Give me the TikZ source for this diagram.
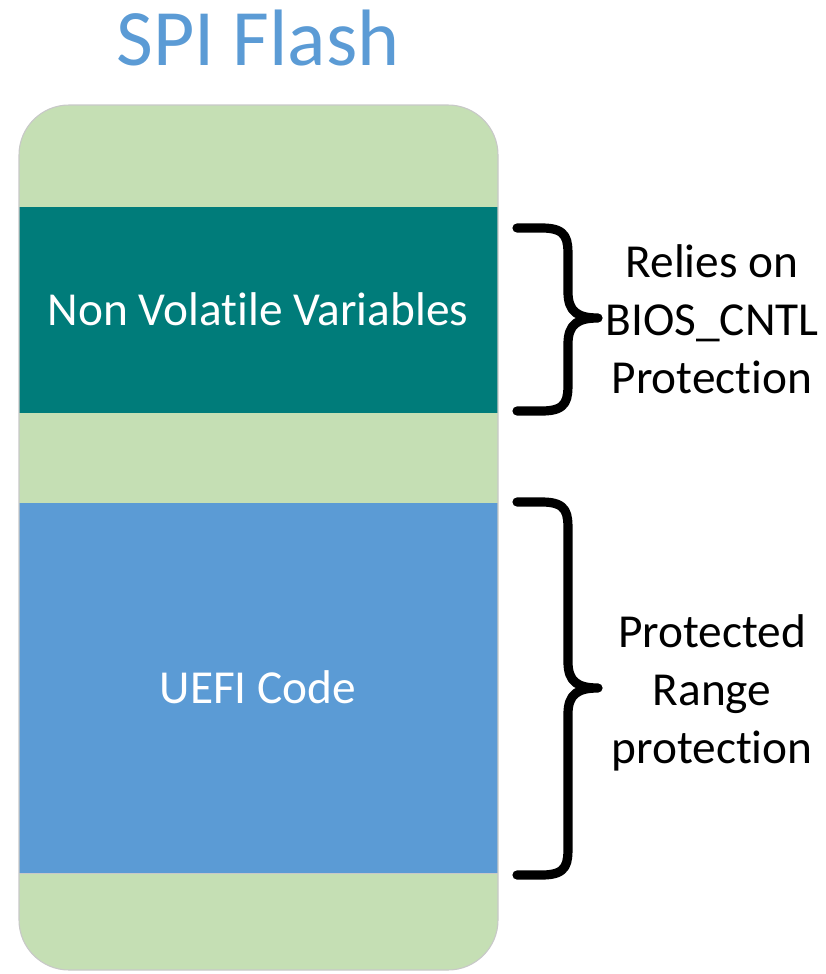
\documentclass[tikz,border=0pt]{standalone}
\usepackage{fontspec}
\setmainfont[Ligatures={NoCommon}]{Carlito}
\definecolor{flashgreen}{HTML}{C5DFB4}
\definecolor{nvteal}{HTML}{007C7A}
\definecolor{uefiblue}{HTML}{5B9BD5}
\definecolor{titleblue}{HTML}{5B9BD5}
\definecolor{edgegray}{HTML}{C8C8C8}
\begin{document}
\begin{tikzpicture}[x=0.75pt,y=-0.75pt,
  bandtext/.style={text=white,font=\fontsize{35.5}{43.5}\selectfont,inner sep=0pt},
  sidetext/.style={text=black,font=\fontsize{35.5}{43.5}\selectfont,align=center,inner sep=0pt},
  bracepath/.style={line width=6.9pt,line cap=round,line join=round,black}]
\useasboundingbox (0,0) rectangle (825,974);
% outer flash body
\fill[flashgreen] (19,105) [rounded corners=37.5pt] rectangle (498,970);
% bands
\fill[nvteal] (19,207) rectangle (498,413);
\fill[uefiblue] (19,503) rectangle (498,873);
\draw[edgegray,line width=0.6pt] (19,873) -- (498,873);
\draw[edgegray,line width=0.8pt,rounded corners=37.5pt] (19,105) rectangle (498,970);
% title
\node[text=titleblue,font=\fontsize{60}{72}\selectfont,anchor=base,inner sep=0pt] (title) at (258,65) {SPI Flash};
% band labels
\node[bandtext,anchor=base] (nvv) at (258,325) {Non Volatile Variables};
\node[bandtext,anchor=base] (uefi) at (258,703) {UEFI Code};
% braces
\coordinate (b1top) at (517,228);
\coordinate (b1tip) at (598,318);
\coordinate (b1bot) at (517,411);
\draw[bracepath] (b1top) -- (542,228) .. controls (568,228) and (568,240) .. (568,258)
  -- (568,292) .. controls (568,312) and (578,318) .. (b1tip)
  .. controls (578,318) and (568,324) .. (568,344)
  -- (568,381) .. controls (568,399) and (568,411) .. (542,411) -- (b1bot);
\coordinate (b2top) at (517,502);
\coordinate (b2tip) at (598,688);
\coordinate (b2bot) at (517,875);
\draw[bracepath] (b2top) -- (542,502) .. controls (568,502) and (568,514) .. (568,532)
  -- (568,662) .. controls (568,682) and (578,688) .. (b2tip)
  .. controls (578,688) and (568,694) .. (568,714)
  -- (568,845) .. controls (568,863) and (568,875) .. (542,875) -- (b2bot);
% side labels
\node[sidetext,anchor=base] (l1a) at (712,277) {Relies on};
\node[sidetext,anchor=base] (l1b) at (712,335) {BIOS\_CNTL};
\node[sidetext,anchor=base] (l1c) at (712,393) {Protection};
\node[sidetext,anchor=base] (l2a) at (712,647) {Protected};
\node[sidetext,anchor=base] (l2b) at (712,705) {Range};
\node[sidetext,anchor=base] (l2c) at (712,763) {protection};
\end{tikzpicture}
\end{document}
